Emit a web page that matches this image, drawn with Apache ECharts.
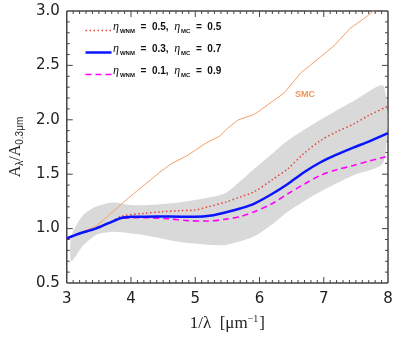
<!DOCTYPE html>
<html>
<head>
<meta charset="utf-8">
<script src="https://cdn.jsdelivr.net/npm/echarts@6/dist/echarts.min.js"></script>
<style>
  html, body { margin: 0; padding: 0; background: #fff; }
  #chart { width: 407px; height: 339px; }
</style>
</head>
<body>
<div id="chart"></div>
<script>
// Extinction curves A_lambda / A_0.3um versus inverse wavelength.
const bandX     = [3.07, 3.25, 3.45, 3.71, 3.95, 4.22, 4.74, 5.25, 5.48, 5.92, 6.2, 6.44, 6.95, 7.46, 7.93];
const bandUpper = [0.93, 1.12, 1.20, 1.24, 1.22, 1.215, 1.24, 1.29, 1.33, 1.55, 1.69, 1.81, 2.00, 2.17, 2.31];
const bandLower = [0.70, 0.84, 0.94, 0.97, 0.96, 0.94, 0.88, 0.85, 0.85, 0.93, 1.04, 1.155, 1.34, 1.49, 1.61];

const smcCurve = [
  [3.0, 0.91], [3.2, 0.96], [3.45, 1.02], [3.65, 1.12], [3.86, 1.23], [4.1, 1.35],
  [4.33, 1.46], [4.45, 1.52], [4.64, 1.60], [4.87, 1.67], [5.0, 1.72], [5.15, 1.78],
  [5.38, 1.85], [5.5, 1.92], [5.67, 2.0], [5.92, 2.05], [6.18, 2.16], [6.39, 2.25],
  [6.64, 2.43], [6.87, 2.54], [7.16, 2.68], [7.41, 2.84], [7.67, 2.95], [7.9, 3.06]
];
const curve55 = [
  [3.0, 0.91], [3.2, 0.955], [3.45, 1.0], [3.65, 1.05], [3.86, 1.115], [4.2, 1.14],
  [4.48, 1.155], [4.75, 1.165], [4.99, 1.17], [5.2, 1.2], [5.48, 1.245], [5.7, 1.29],
  [5.92, 1.34], [6.2, 1.45], [6.44, 1.55], [6.69, 1.69], [6.95, 1.81], [7.2, 1.89],
  [7.46, 1.96], [7.7, 2.04], [8.0, 2.125]
];
const curve37 = [
  [3.0, 0.91], [3.2, 0.955], [3.45, 1.0], [3.65, 1.05], [3.86, 1.10], [4.0, 1.108],
  [4.22, 1.11], [4.6, 1.112], [5.0, 1.108], [5.25, 1.12], [5.48, 1.15], [5.7, 1.185],
  [5.92, 1.23], [6.2, 1.32], [6.44, 1.41], [6.7, 1.52], [6.95, 1.61], [7.2, 1.68],
  [7.46, 1.745], [7.7, 1.80], [8.0, 1.877]
];
const curve19 = [
  [3.0, 0.91], [3.2, 0.955], [3.45, 1.0], [3.65, 1.05], [3.86, 1.095], [4.22, 1.10],
  [4.6, 1.09], [4.89, 1.073], [5.2, 1.07], [5.48, 1.087], [5.7, 1.11], [5.92, 1.155],
  [6.2, 1.23], [6.44, 1.32], [6.7, 1.41], [6.95, 1.49], [7.2, 1.54], [7.46, 1.58],
  [7.7, 1.62], [8.0, 1.665]
];

const curveNames = ['w55', 'w37', 'w19'];
const etaWNM = ['0.5', '0.3', '0.1'];
const etaMC  = ['0.5', '0.7', '0.9'];
const smcLabel = [[6.71, 2.23, 'SMC']];

const xTicks = { min: 3, max: 8, step: 1, minor: 10 };
const yTicks = { min: 0.5, max: 3.0, step: 0.5, minor: 5 };

const curveStyles = [
  { color: '#e2453c', width: 1.5, type: [1.5, 2.5] },
  { color: '#0a14ff', width: 2.5, type: 'solid' },
  { color: '#ff00ff', width: 1.6, type: [6, 4] }
];

const chart = echarts.init(document.getElementById('chart'));

const frameColor = '#444';
const tickFont = 'DejaVu Sans';

function plainAxis(extra) {
  return Object.assign({
    type: 'value',
    axisLine: { show: false },
    axisTick: { show: false },
    splitLine: { show: false }
  }, extra);
}

// Shaded range between the lower and upper envelopes, drawn as one closed polygon.
function renderBand(params, api) {
  const top = bandX.map((x, i) => api.coord([x, bandUpper[i]]));
  const bottom = bandX.map((x, i) => api.coord([x, bandLower[i]])).reverse();
  return {
    type: 'polygon',
    shape: { points: top.concat(bottom), smooth: 0.25 },
    style: { fill: '#d9d9d9', stroke: null },
    silent: true
  };
}

// Legend: line sample plus eta label for each curve.
const legendTop = 29, legendStep = 22, legendLeft = 83;
const legendGraphics = [];
curveNames.forEach((n, i) => {
  const y = legendTop + i * legendStep;
  legendGraphics.push({
    type: 'line', left: legendLeft, top: y - 1,
    shape: { x1: 0, y1: 0, x2: 26, y2: 0 },
    style: { stroke: curveStyles[i].color, lineWidth: curveStyles[i].width, lineDash: curveStyles[i].type === 'solid' ? null : curveStyles[i].type }
  });
  legendGraphics.push({
    type: 'text', left: legendLeft + 30, top: y - 8,
    style: {
      text: '{eta|η}{sub|WNM}{t|  =  ' + etaWNM[i] + ',  }{eta|η}{sub|MC}{t|  =  ' + etaMC[i] + '}',
      rich: {
        eta: { fontFamily: 'Liberation Serif', fontStyle: 'italic', fontSize: 12, fill: '#111', lineHeight: 14 },
        sub: { fontFamily: 'Liberation Sans', fontWeight: 'bold', fontSize: 6, fill: '#111', verticalAlign: 'bottom', lineHeight: 14, padding: [5, 0, 0, 1] },
        t:   { fontFamily: 'Liberation Sans', fontWeight: 'bold', fontSize: 10, fill: '#111', lineHeight: 14 }
      }
    }
  });
});

chart.setOption({
  animation: false,
  grid: { left: 64, right: 19, top: 11, bottom: 54 },
  xAxis: plainAxis({
    min: xTicks.min, max: xTicks.max, interval: xTicks.step,
    axisLabel: { fontFamily: tickFont, fontSize: 15, color: '#222', margin: 9 },
    name: '{n|1/λ  [μm}{s|−1}{n|]}',
    nameLocation: 'middle',
    nameGap: 31,
    nameTextStyle: {
      rich: {
        n: { fontFamily: 'Liberation Serif', fontSize: 17, color: '#222', lineHeight: 20 },
        s: { fontFamily: 'Liberation Serif', fontSize: 10, color: '#222', verticalAlign: 'top', lineHeight: 20, padding: [0, 1, 10, 0] }
      }
    }
  }),
  yAxis: plainAxis({
    min: yTicks.min, max: yTicks.max, interval: yTicks.step,
    axisLabel: { fontFamily: tickFont, fontSize: 15, color: '#222', margin: 7, formatter: v => v.toFixed(1) },
    name: '{a|A}{b|λ}{a|/A}{b|0.3μm}',
    nameLocation: 'middle',
    nameGap: 29,
    nameTextStyle: {
      rich: {
        a: { fontFamily: 'Liberation Serif', fontSize: 16, color: '#222', lineHeight: 18 },
        b: { fontFamily: 'Liberation Sans', fontSize: 10, color: '#222', verticalAlign: 'bottom', lineHeight: 18, padding: [6, 0, 0, 0] }
      }
    }
  }),
  series: [
    {
      name: 'band', type: 'custom', renderItem: renderBand, data: [[bandX[0], bandLower[0]]],
      clip: true, silent: true, z: 1
    },
    {
      name: 'SMC', type: 'line', symbol: 'none', data: smcCurve, clip: true,
      lineStyle: { color: '#f2a06a', width: 1 }, z: 3
    },
    {
      name: curveNames[0], type: 'line', symbol: 'none', smooth: 0.3, data: curve55, clip: true,
      lineStyle: curveStyles[0], z: 4
    },
    {
      name: curveNames[1], type: 'line', symbol: 'none', smooth: 0.3, data: curve37, clip: true,
      lineStyle: curveStyles[1], z: 5
    },
    {
      name: curveNames[2], type: 'line', symbol: 'none', smooth: 0.3, data: curve19, clip: true,
      lineStyle: curveStyles[2], z: 4
    }
  ]
});

// Frame, inward ticks on all four sides and the SMC tag, placed through the axis scales.
const toPx = (x, y) => chart.convertToPixel({ gridIndex: 0 }, [x, y]);
const frameGraphics = [];
const c0 = toPx(xTicks.min, yTicks.min);
const c1 = toPx(xTicks.max, yTicks.max);
const frameStyle = { stroke: frameColor, lineWidth: 1.5 };
const tickStyle = { stroke: frameColor, lineWidth: 1 };
frameGraphics.push(
  { type: 'line', shape: { x1: c0[0], y1: c0[1], x2: c1[0], y2: c0[1] }, style: frameStyle },
  { type: 'line', shape: { x1: c0[0], y1: c1[1], x2: c1[0], y2: c1[1] }, style: frameStyle },
  { type: 'line', shape: { x1: c0[0], y1: c0[1], x2: c0[0], y2: c1[1] }, style: frameStyle },
  { type: 'line', shape: { x1: c1[0], y1: c0[1], x2: c1[0], y2: c1[1] }, style: frameStyle }
);
const nx = Math.round((xTicks.max - xTicks.min) / xTicks.step) * xTicks.minor;
for (let k = 1; k < nx; k++) {
  const v = xTicks.min + k * xTicks.step / xTicks.minor;
  const len = k % xTicks.minor === 0 ? 6 : 3;
  const px = toPx(v, yTicks.min)[0];
  frameGraphics.push(
    { type: 'line', shape: { x1: px, y1: c0[1], x2: px, y2: c0[1] - len }, style: tickStyle },
    { type: 'line', shape: { x1: px, y1: c1[1], x2: px, y2: c1[1] + len }, style: tickStyle }
  );
}
const ny = Math.round((yTicks.max - yTicks.min) / yTicks.step) * yTicks.minor;
for (let k = 1; k < ny; k++) {
  const v = yTicks.min + k * yTicks.step / yTicks.minor;
  const len = k % yTicks.minor === 0 ? 6 : 3;
  const py = toPx(xTicks.min, v)[1];
  frameGraphics.push(
    { type: 'line', shape: { x1: c0[0], y1: py, x2: c0[0] + len, y2: py }, style: tickStyle },
    { type: 'line', shape: { x1: c1[0], y1: py, x2: c1[0] - len, y2: py }, style: tickStyle }
  );
}
smcLabel.forEach(d => {
  const p = toPx(d[0], d[1]);
  frameGraphics.push({
    type: 'text', x: p[0], y: p[1],
    style: {
      text: d[2], fill: '#f0955a', fontFamily: 'Liberation Sans', fontWeight: 'bold', fontSize: 9,
      align: 'center', verticalAlign: 'middle'
    }
  });
});

chart.setOption({ graphic: legendGraphics.concat(frameGraphics) });
</script>
</body>
</html>
